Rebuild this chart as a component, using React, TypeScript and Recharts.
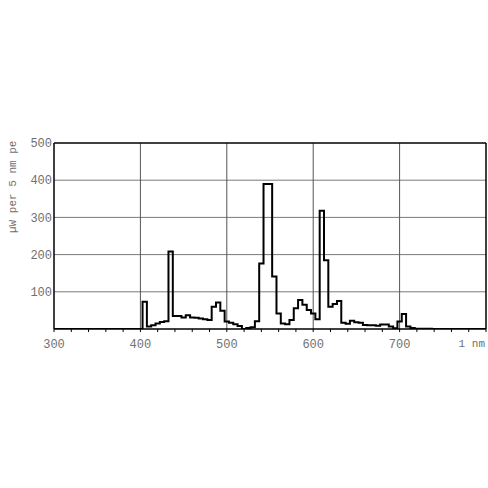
import React from 'react';
import { LineChart, Line, XAxis, YAxis, ReferenceLine, Label } from 'recharts';

// Spectral power in 5 nm bins (µW per 5 nm), bin centres from 300 nm to 800 nm
const binStart = 300;
const binStep = 5;
const intensity = [
  // 300 - 395
  0, 0, 0, 0, 0, 0, 0, 0, 0, 0, 0, 0, 0, 0, 0, 0, 0, 0, 0, 0,
  // 400 - 495
  0, 73, 7, 10, 15, 19, 21, 208, 35, 35, 31, 37, 31, 30, 28, 26, 24, 60, 71, 49,
  // 500 - 595
  20, 17, 13, 8, 0, 3, 5, 21, 176, 390, 390, 141, 42, 15, 13, 24, 56, 78, 65, 51,
  // 600 - 695
  42, 26, 318, 185, 60, 67, 75, 17, 14, 22, 18, 17, 11, 10, 10, 9, 12, 12, 7, 2,
  // 700 - 795
  20, 40, 7, 3, 1, 1, 1, 1, 0, 0, 0, 0, 0, 0, 0, 0, 0, 0, 0, 0,
  // 800
  0,
];
const wavelengths = intensity.map((_, i) => binStart + i * binStep);

const xMinorTicks = [
  300, 320, 340, 360, 380, 400, 420, 440, 460, 480, 500, 520, 540, 560, 580,
  600, 620, 640, 660, 680, 700, 720, 740, 760, 780, 800,
];
const xLabelValues = [300, 400, 500, 600, 700, 800];
const xLabelTexts = ['300', '400', '500', '600', '700', '1 nm'];
const yTicks = [100, 200, 300, 400, 500];
const hGrid = [100, 200, 300, 400];
const vGrid = [400, 500, 600, 700];
const yLabel = 'µW per 5 nm pe';

const data = wavelengths.map((w, i) => ({ w, v: intensity[i] }));

const FONT = '"Liberation Mono", "DejaVu Sans Mono", monospace';
const TXT = '#707070';

const XTick = (props: any) => {
  const { x, y, payload } = props;
  const idx = xLabelValues.indexOf(payload.value);
  if (idx < 0) return <g />;
  const last = idx === xLabelValues.length - 1;
  return (
    <text
      x={last ? x - 1 : x}
      y={y}
      dy="0.71em"
      textAnchor={last ? 'end' : 'middle'}
      fontFamily={FONT}
      fontSize={last ? 11 : 12}
      fill={TXT}
    >
      {xLabelTexts[idx]}
    </text>
  );
};

const YTick = (props: any) => {
  const { x, y, payload } = props;
  return (
    <text x={x} y={y} dy="0.35em" textAnchor="end" fontFamily={FONT} fontSize={12} fill={TXT}>
      {payload.value}
    </text>
  );
};

const YLabelContent = (props: any) => {
  const vb = props.viewBox || {};
  const cx = 13;
  const by = (vb.y ?? 143) + 90;
  return (
    <text
      x={cx}
      y={by}
      transform={`rotate(-90, ${cx}, ${by})`}
      textAnchor="start"
      dominantBaseline="central"
      fontFamily={FONT}
      fontSize={11}
      fill={TXT}
    >
      {yLabel}
    </text>
  );
};

export default function App() {
  return (
    <div style={{ position: 'absolute', left: 0, top: 0, width: 488, height: 488, background: '#fff' }}>
      <LineChart
        width={488}
        height={488}
        data={data}
        margin={{ top: 143, right: 2, bottom: 139, left: 0 }}
      >
        <XAxis
          dataKey="w"
          type="number"
          domain={[300, 800]}
          ticks={xMinorTicks}
          interval={0}
          tickSize={3}
          tickMargin={7}
          tickLine={{ stroke: '#000' }}
          axisLine={{ stroke: '#000', strokeWidth: 1.5 }}
          tick={XTick}
          height={20}
          allowDataOverflow
        />
        <YAxis
          type="number"
          domain={[0, 500]}
          ticks={yTicks}
          interval={0}
          width={54}
          tickLine={false}
          tickSize={0}
          tickMargin={2}
          axisLine={{ stroke: '#000', strokeWidth: 1.5 }}
          tick={YTick}
          allowDataOverflow
        >
          <Label content={YLabelContent} />
        </YAxis>
        {hGrid.map((v) => (
          <ReferenceLine key={`h${v}`} y={v} stroke="#7a7a7a" strokeWidth={1} />
        ))}
        {vGrid.map((v) => (
          <ReferenceLine key={`v${v}`} x={v} stroke="#555" strokeWidth={1} />
        ))}
        <ReferenceLine y={500} stroke="#000" strokeWidth={1.5} />
        <ReferenceLine x={800} stroke="#000" strokeWidth={1.5} />
        <Line
          type="step"
          dataKey="v"
          stroke="#000"
          strokeWidth={2}
          dot={false}
          activeDot={false}
          isAnimationActive={false}
        />
      </LineChart>
    </div>
  );
}
